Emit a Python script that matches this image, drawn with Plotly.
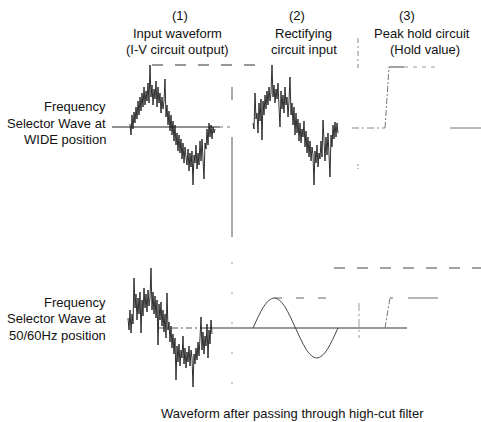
import plotly.graph_objects as go

# ---------------- data (offsets from baseline, up = positive) ----------------
wide_input = [3, -8, 12, -2, 15, 4, 20, 8, 26, 12, 30, 16, 34, 20, 40, 22, 36, 26, 44, 24,
              62, 30, 42, 22, 38, 28, 46, 20, 40, 24, 34, 14, 30, 18, 26, 48, 10, 22, 2, 16,
              -4, 12, -8, 6, -14, 2, -18, -6, -24, -8, -26, -12, -32, -16, -36, -20, -30, -38, -22, -44,
              -26, -40, -24, -58, -28, -36, -18, -42, -26, -38, -14, -34, -12, -30, -52, -16, -22, -2, -18, 4,
              -10, 2, -12, 0, -6, -2]
wide_rect = [4, -2, 34, 8, 14, -6, 24, 6, 28, -13, 26, 12, 32, 18, 36, 22, 40, 26, 34, 62,
             30, 42, 24, 38, 28, 44, 20, 0, 36, 18, 32, 14, 40, 22, 30, 10, 26, 50, 12, 24,
             2, 20, -8, 14, -6, 8, -14, 4, -16, -2, -10, 6, -20, -4, -26, -10, -30, -14, -34, -20,
             -28, -58, -24, -36, -18, -40, -26, -32, -14, -30, 7, -22, -34, -10, -28, -6, -24, -50, -8, -20,
             2, -12, 5, -10, 4, -6]
hz_input = [10, -2, 18, -5, 14, 4, 50, 20, 34, 8, 30, 14, 36, -5, 28, 12, 40, 20, 34, 16,
            38, 22, 30, 60, 18, 36, 14, 32, 10, 28, -17, 24, 8, 26, 2, 18, -4, 14, -10, 35,
            -2, 6, -14, 2, -20, -6, -26, -10, -52, -18, -34, -16, -38, -22, -30, -8, -36, -20, -40, -24,
            -34, -18, -38, -22, -30, -59, -26, -36, -20, -32, -14, -28, -10, 11, -22, -4, -26, -8, -18, 4,
            -30, -2, -16, 8, -6]
hz_filtered = [0, 0.38, 0.71, 0.92, 1.0, 0.92, 0.71, 0.38, 0, -0.38, -0.71, -0.92, -1.0, -0.92, -0.71, -0.38, 0]
hz_amp = 30

col_titles = [["(1)", "Input waveform", "(I-V circuit output)"],
              ["(2)", "Rectifying", "circuit input"],
              ["(3)", "Peak hold circuit", "(Hold value)"]]
row_titles = [["Frequency", "Selector Wave at", "WIDE position"],
              ["Frequency", "Selector Wave at", "50/60Hz position"]]
footer = "Waveform after passing through high-cut filter"

# ---------------- layout geometry ----------------
W, H = 481, 422
BASE = [127, 328]          # baseline pixel rows
X1, X2 = 130, 253          # start of waveform panels (1) and (2)
FONT = "Liberation Sans, Arial, sans-serif"

fig = go.Figure()


def line(xs, ys, color="#222", width=1.0, dash="solid", shape="linear"):
    fig.add_trace(go.Scatter(x=xs, y=ys, mode="lines", hoverinfo="skip",
                             line=dict(color=color, width=width, dash=dash, shape=shape)))


def wave(x0, base, vals, color="#1a1a1a", width=0.9):
    line([x0 + i for i in range(len(vals))], [base - v for v in vals], color=color, width=width)


# ---- top row (WIDE) ----
b = BASE[0]
peak_top = b - max(wide_input)
line([112, 220], [b, b], color="#222", width=1)
line([220, 232], [b, b], color="#777", width=1, dash="3px,4px")
line([152, 262], [peak_top, peak_top], color="#333", width=1, dash="11px,12px")
wave(X1, b, wide_input)
wave(X2, b, wide_rect)
# divider
line([232, 232], [87, 100], color="#555", width=1)
line([232, 232], [137, 237], color="#555", width=1)
line([358, 358], [38, 68], color="#888", width=1, dash="5px,3px,2px,3px")
line([358, 358], [164, 169], color="#888", width=1, dash="2px,2px")
# peak hold (3)
line([352, 385], [b + 1, b + 1], color="#888", width=1, dash="7px,3px,2px,3px")
line([385, 389], [b + 1, peak_top + 2], color="#777", width=1, dash="6px,2px,2px,2px")
line([389, 404], [peak_top + 2, peak_top + 2], color="#444", width=1)
line([404, 440], [peak_top + 2, peak_top + 2], color="#999", width=1, dash="4px,5px")
line([450, 481], [b + 1, b + 1], color="#777", width=1)

# ---- bottom row (50/60Hz) ----
b = BASE[1]
peak_bot = b - max(hz_input)
line([158, 200], [b, b], color="#555", width=1, dash="6px,3px,2px,3px")
line([200, 407], [b, b], color="#333", width=1)
wave(128, b, hz_input)
n = len(hz_filtered) - 1
line([X2 + 85 * i / n for i in range(n + 1)], [b - hz_amp * v for v in hz_filtered],
     color="#444", width=1, shape="spline")
hold = b - hz_amp * max(hz_filtered)
line([274, 330], [hold, hold], color="#666", width=1, dash="8px,14px")
line([334, 481], [peak_bot, peak_bot], color="#444", width=1, dash="11px,12px")
line([385, 390], [b, hold], color="#777", width=1, dash="6px,2px,2px,2px")
line([390, 393], [hold, hold], color="#666", width=1)
line([408, 438], [hold, hold], color="#888", width=1.2)
line([232, 232], [262, 395], color="#999", width=1, dash="2px,28px")
line([359, 359], [303, 338], color="#999", width=1, dash="8px,3px,2px,3px")

# ---------------- text ----------------
ann = []
col_x = [[180, 177, 177], [297, 303, 304], [407, 422, 425]]
col_y = [15, 33, 49]
for c, titles in enumerate(col_titles):
    for r, t in enumerate(titles):
        ann.append(dict(x=col_x[c][r], y=col_y[r], text=t, xanchor="center", yanchor="middle"))
row_y = [[106, 123, 139], [302, 318, 335]]
for r, titles in enumerate(row_titles):
    for k, t in enumerate(titles):
        ann.append(dict(x=108, y=row_y[r][k], text=t, xanchor="right", yanchor="middle"))
ann.append(dict(x=292, y=413, text=footer, xanchor="center", yanchor="middle"))
for a in ann:
    a.update(xref="x", yref="y", showarrow=False, font=dict(family=FONT, size=13, color="#111"))

fig.update_layout(
    width=W, height=H, margin=dict(l=0, r=0, t=0, b=0),
    paper_bgcolor="white", plot_bgcolor="white", showlegend=False,
    xaxis=dict(range=[0, W], visible=False, fixedrange=True),
    yaxis=dict(range=[H, 0], visible=False, fixedrange=True),
    annotations=ann,
)
fig.write_html("out.html", config={"displayModeBar": False},
               post_script="document.body.style.margin='0';document.body.style.overflow='hidden';")
